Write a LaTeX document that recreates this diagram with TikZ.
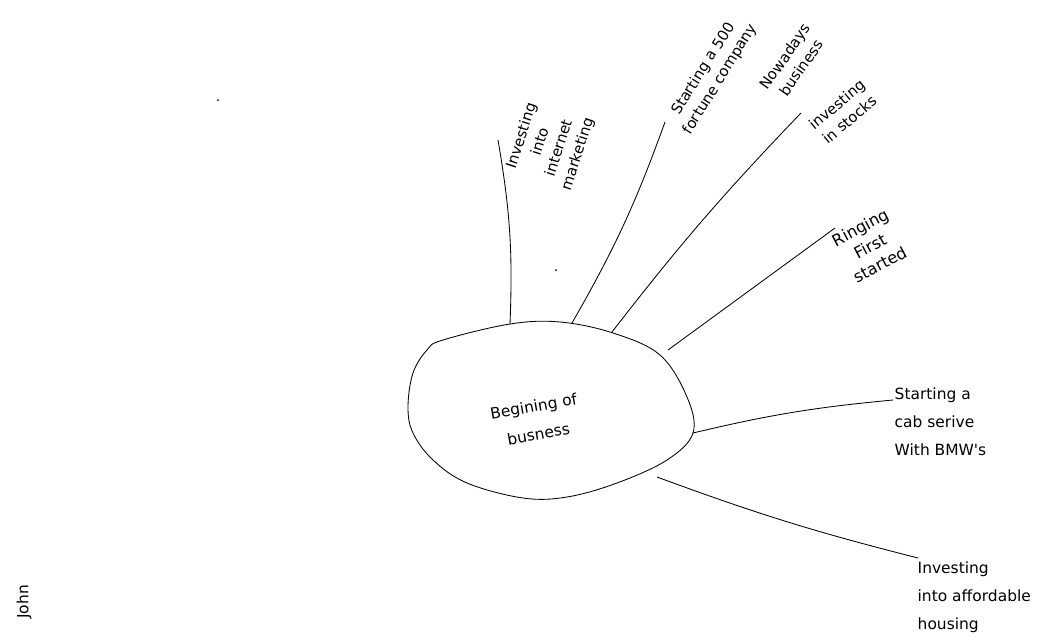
\documentclass[tikz,border=0pt]{standalone}
\usepackage{fontspec}
\usepackage{tikz}
\usetikzlibrary{positioning,calc}
\newfontfamily\hand{DejaVu Sans}

\begin{document}
\begin{tikzpicture}[x=0.025cm,y=-0.025cm,
    idea/.style={font=\hand\fontsize{11}{20}\selectfont, align=center,
                 inner sep=1pt, text=black},
    tilted/.style={idea, font=\hand\fontsize{10.5}{14}\selectfont},
    branch/.style={draw=black, line width=0.6pt},
    blob/.style={draw=black, line width=0.6pt},
]
\useasboundingbox[fill=white] (0,0) rectangle (1054,639);

% central idea
\draw[blob] plot[smooth cycle, tension=0.6] coordinates {
    (443,340) (510,324) (560,322) (613,333) (660,355) (687,397)
    (693,433) (667,460) (617,483) (567,497) (523,498) (467,483)
    (433,460) (413,433) (408,407) (413,373) (427,350)};
\node[idea, rotate=10] (core) at (536,420) {Begining of\\busness};

% roots on the blob
\coordinate (r1) at (510,324);
\coordinate (r2) at (572,323);
\coordinate (r3) at (612,332);
\coordinate (r4) at (668,350);
\coordinate (r5) at (693,433);
\coordinate (r6) at (657,477);

% free ends
\coordinate (e1) at (498,140);
\coordinate (e2) at (665,122);
\coordinate (e3) at (801,113);
\coordinate (e4) at (835,228);
\coordinate (e5) at (893,400);
\coordinate (e6) at (918,558);

% branches
\draw[branch] (r1) to[bend right=6] (e1);
\draw[branch] (r2) to[bend right=5] (e2);
\draw[branch] (r3) to[bend left=3] (e3);
\draw[branch] (r4) -- (e4);
\draw[branch] (r5) to[bend left=4] (e5);
\draw[branch] (r6) to[bend right=3] (e6);

% labels
\node[tilted, rotate=72] (internet) at (550,145) {Investing\\into\\internet\\marketing};
\node[tilted, rotate=58] (fortune) at (712,74) {Starting a 500\\fortune company};
\node[tilted, rotate=55] (nowadays) at (793,62) {Nowadays\\business};
\node[tilted, rotate=40] (stocks) at (843,112) {investing\\in stocks};
\node[tilted, rotate=28, font=\hand\fontsize{11.5}{15}\selectfont] (first) at (870,246) {Ringing\\First\\started};
\node[idea, align=left, anchor=north west] (cab) at (893,386) {Starting a\\cab serive\\With BMW's};
\node[idea, align=left, anchor=north west] (housing) at (916,560) {Investing\\into affordable\\housing};
\node[idea, rotate=90] (john) at (24,602) {John};

% stray dots
\fill (218,100) circle (1);
\fill (556,270) circle (1);
\end{tikzpicture}
\end{document}
